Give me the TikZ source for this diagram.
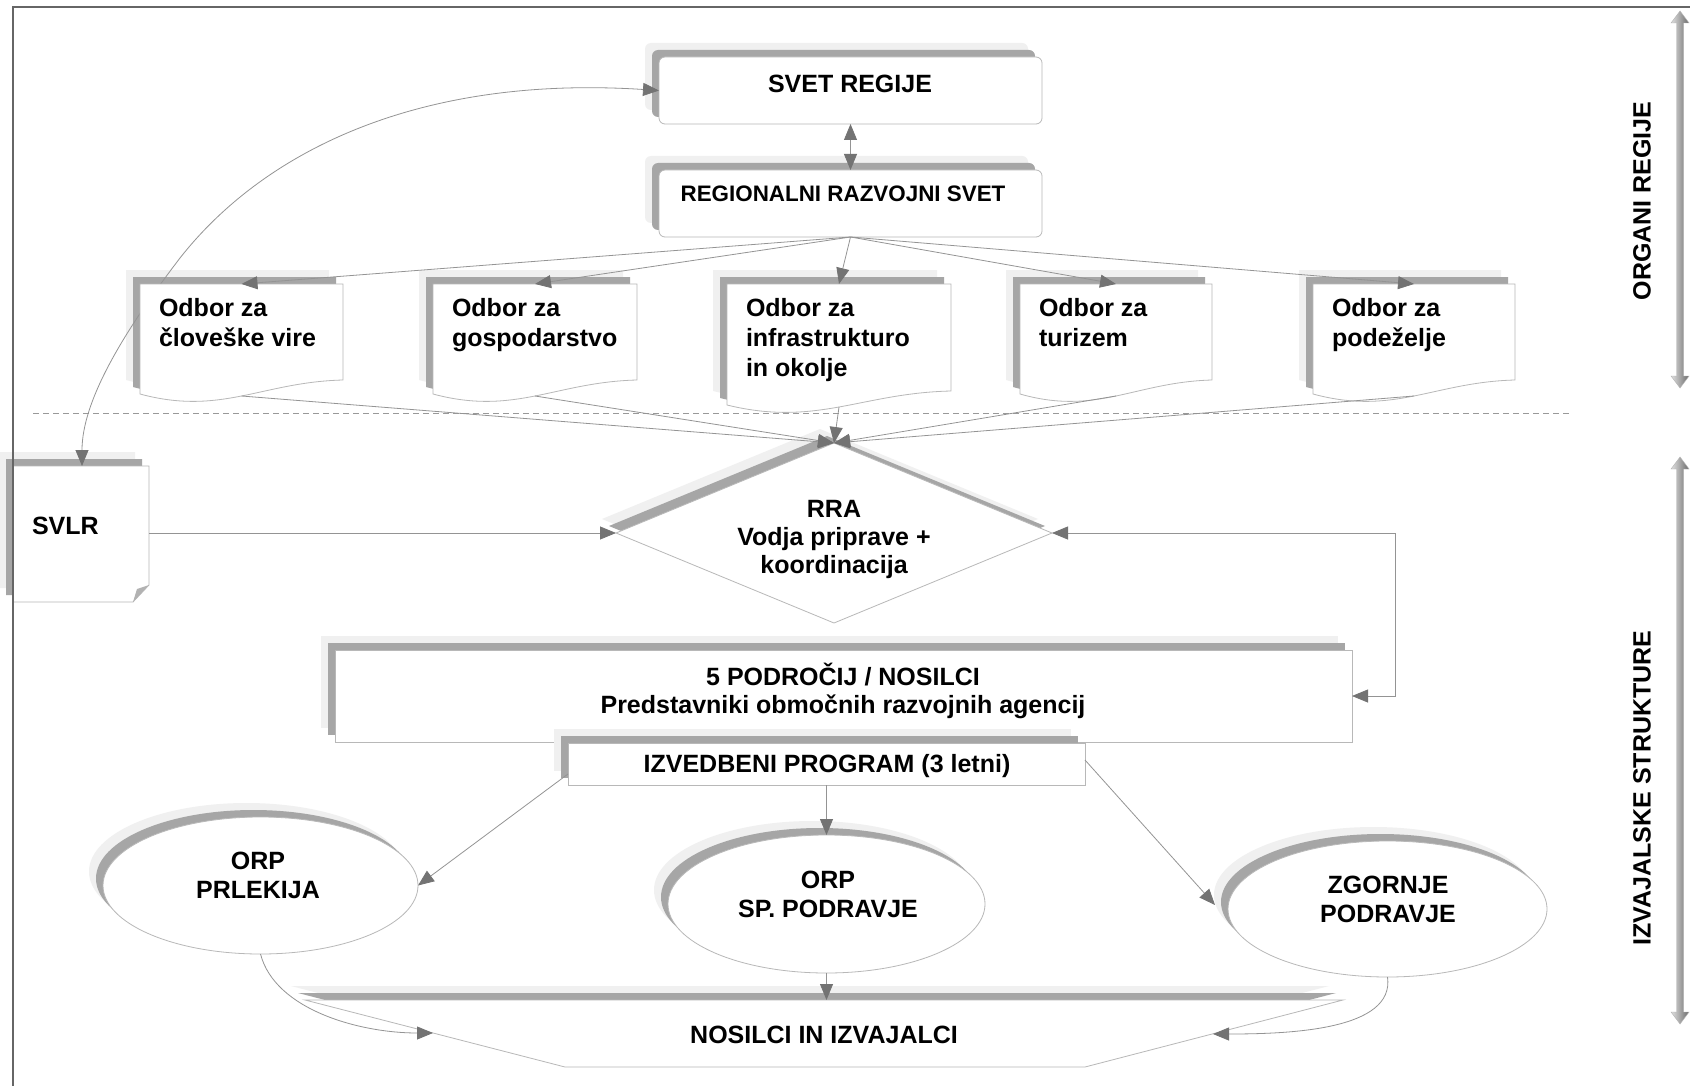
\documentclass[tikz,border=0pt]{standalone}
\usepackage{fontspec}
\setmainfont{Liberation Sans}
\usetikzlibrary{arrows.meta,shapes.geometric,shadows}
\newcommand{\lblk}[1]{\vtop{\halign{##\hfil\cr#1\crcr}}}
\newcommand{\cblk}[1]{\vtop{\halign{\hfil##\hfil\cr#1\crcr}}}
\tikzset{
  gtip/.tip={Triangle[length=16pt,width=13pt,color=black!55]},
  conn/.style={draw=black!42, line width=0.8pt},
  shd/.style={general shadow={shadow xshift=-14pt,shadow yshift=14pt,fill=black!6},
              general shadow={shadow xshift=-7pt,shadow yshift=7pt,fill=black!35}},
  panel/.style={draw=black!28, fill=white, line width=0.8pt, inner sep=0pt, outer sep=0pt, shd},
  txt/.style={inner sep=0pt, outer sep=0pt, text=black, font=\fontsize{25}{28}\selectfont\bfseries},
  otxt/.style={txt, anchor=base west, font=\fontsize{25}{30}\selectfont\bfseries},
  etxt/.style={txt, anchor=base, font=\fontsize{25}{29.5}\selectfont\bfseries},
  sidearrow/.style={left color=black!12, right color=black!58, draw=black!30, line width=0.4pt}
}
\begin{document}
\begin{tikzpicture}[x=1pt,y=-1pt]
\useasboundingbox (0,0) rectangle (1705,1086);
\fill[white] (0,0) rectangle (1705,1086);

% dashed separator
\draw[black!40, line width=0.8pt, dash pattern=on 6pt off 4pt] (33,413) -- (1571,413);

% top boxes
\node[panel, rounded corners=6pt, minimum width=383pt, minimum height=67pt] (svet) at (850.5,90.5) {};
\node[panel, rounded corners=6pt, minimum width=383pt, minimum height=67pt] (rrs) at (850.5,203.5) {};

% SVLR
\path[panel] (13,466) -- (149,466) -- (149,585) -- (133,602) -- (13,602) -- cycle;
\fill[black!30] (149,585) -- (133,602) -- (137,589) -- cycle;
\coordinate (svlrtop) at (82,466);
\coordinate (svlrr) at (149,533);

% box 1 (curve passes between its shadow and its face)
\fill[black!6, shift={(-14,-14)}] (140,284) -- (343,284) -- (343,380) .. controls (261.8,382) and (221.2,416) .. (140,394) -- cycle;
\fill[black!35, shift={(-7,-7)}] (140,284) -- (343,284) -- (343,380) .. controls (261.8,382) and (221.2,416) .. (140,394) -- cycle;
\draw[conn, gtip-gtip] (svlrtop) .. controls (82,400) and (125,330) .. (180,258) .. controls (265,150) and (420,75) .. (svet.west);
\path[draw=black!28, fill=white, line width=0.8pt] (140,284) -- (343,284) -- (343,380) .. controls (261.8,382) and (221.2,416) .. (140,394) coordinate[pos=0.5] (b1bot) -- cycle;
\coordinate (b1top) at (241.5,284);

% boxes 2-5
\path[panel] (433,284) -- (637,284) -- (637,380) .. controls (555.4,382) and (514.6,416) .. (433,394) coordinate[pos=0.5] (b2bot) -- cycle;
\coordinate (b2top) at (535,284);
\path[panel] (727,284) -- (951,284) -- (951,391) .. controls (861.4,393) and (816.6,427) .. (727,405) coordinate[pos=0.5] (b3bot) -- cycle;
\coordinate (b3top) at (839,284);
\path[panel] (1020,284) -- (1212,284) -- (1212,380) .. controls (1135.2,382) and (1096.8,416) .. (1020,394) coordinate[pos=0.5] (b4bot) -- cycle;
\coordinate (b4top) at (1116,284);
\path[panel] (1313,284) -- (1515,284) -- (1515,380) .. controls (1434.2,382) and (1393.8,416) .. (1313,394) coordinate[pos=0.5] (b5bot) -- cycle;
\coordinate (b5top) at (1414,284);

% RRA diamond
\node[panel, diamond, minimum width=436pt, minimum height=180pt] (rra) at (834,533) {};

% 5 podrocij and izvedbeni program
\node[panel, minimum width=1017pt, minimum height=92pt] (pod) at (843.5,696) {};
\node[panel, minimum width=517pt, minimum height=42pt] (izv) at (826.5,764) {};
\coordinate (izvl) at (568,774);
\coordinate (izvr) at (1085,760);
\coordinate (rc) at (1395,533);

% ellipses
\node[panel, ellipse, minimum width=315pt, minimum height=137pt] (prl) at (260.5,885.5) {};
\node[panel, ellipse, minimum width=317pt, minimum height=138pt] (spp) at (826.5,904) {};
\node[panel, ellipse, minimum width=319pt, minimum height=136pt] (zgp) at (1387.5,909) {};
\coordinate (zgtip) at (1215,905);

% nosilci in izvajalci
\path[panel] (305,1000) -- (1343,1000) -- (1085,1067) -- (565,1067) -- cycle;
\coordinate (nostop) at (826.5,1000);
\coordinate (nosl) at (433,1033);
\coordinate (nosr) at (1213,1034);

% connectors
\draw[conn, gtip-gtip] (svet.south) -- (rrs.south |- rrs.north);
\foreach \b in {b1top,b2top,b3top,b4top,b5top}
  \draw[conn, -gtip] (rrs.south) -- (\b);
\foreach \b in {b1bot,b2bot,b3bot,b4bot,b5bot}
  \draw[conn, -gtip] (\b) -- (rra.north);
\draw[conn, -gtip] (svlrr) -- (rra.west);
\draw[conn, gtip-gtip] (rra.east) -- (rc) |- (pod.east);
\draw[conn, -gtip] (izvl) -- (prl.east);
\draw[conn, -gtip] (izv.south) -- (spp.north);
\draw[conn, -gtip] (izvr) -- (zgtip);
\draw[conn, -gtip] (prl.south) .. controls (275,1010) and (360,1033) .. (nosl);
\draw[conn, -gtip] (spp.south) -- (nostop);
\draw[conn, -gtip] (zgp.south) .. controls (1395,1030) and (1290,1034) .. (nosr);

% texts
\node[txt, anchor=base] (tsvet) at (850,93) {SVET REGIJE};
\node[txt, anchor=base, font=\fontsize{22.4}{26}\selectfont\bfseries] (trrs) at (843,202) {REGIONALNI RAZVOJNI SVET};
\node[otxt] (t1) at (159,316) {\lblk{Odbor za\cr človeške vire}};
\node[otxt] (t2) at (452,316) {\lblk{Odbor za\cr gospodarstvo}};
\node[otxt] (t3) at (746,316) {\lblk{Odbor za\cr infrastrukturo\cr in okolje}};
\node[otxt] (t4) at (1039,316) {\lblk{Odbor za\cr turizem}};
\node[otxt] (t5) at (1332,316) {\lblk{Odbor za\cr podeželje}};
\node[txt, anchor=base west] (tsvlr) at (32,534) {SVLR};
\node[txt, anchor=base] (trra) at (834,517) {\cblk{RRA\cr Vodja priprave +\cr koordinacija}};
\node[txt, anchor=base] (tpod) at (843,685) {\cblk{5 PODROČIJ / NOSILCI\cr Predstavniki območnih razvojnih agencij}};
\node[txt, anchor=base] (tizv) at (827,772) {IZVEDBENI PROGRAM (3 letni)};
\node[etxt] (tprl) at (258,869) {\cblk{ORP\cr PRLEKIJA}};
\node[etxt, font=\fontsize{25}{29}\selectfont\bfseries] (tspp) at (828,888) {\cblk{ORP\cr SP. PODRAVJE}};
\node[etxt, font=\fontsize{25}{29}\selectfont\bfseries] (tzgp) at (1388,893) {\cblk{ZGORNJE\cr PODRAVJE}};
\node[txt, anchor=base] (tnos) at (824,1043) {NOSILCI IN IZVAJALCI};

% side labels and arrows
\shade[sidearrow] (1680,11) -- (1689,23) -- (1683.5,23) -- (1683.5,376) -- (1689,376) -- (1680,388) -- (1671,376) -- (1676.5,376) -- (1676.5,23) -- (1671,23) -- cycle;
\shade[sidearrow] (1680,457) -- (1689,469) -- (1683.5,469) -- (1683.5,1012) -- (1689,1012) -- (1680,1024) -- (1671,1012) -- (1676.5,1012) -- (1676.5,469) -- (1671,469) -- cycle;
\node[txt, rotate=90] (torg) at (1642,201) {ORGANI REGIJE};
\node[txt, rotate=90] (tizs) at (1642,788) {IZVAJALSKE STRUKTURE};

% frame
\draw[black!60, line width=1.5pt] (13,1086) -- (13,7) -- (1690,7);
\end{tikzpicture}
\end{document}
